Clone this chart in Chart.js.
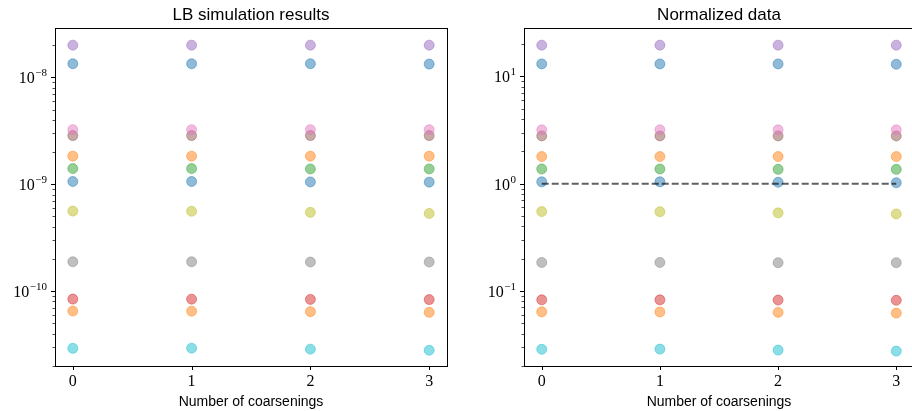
<!DOCTYPE html>
<html lang="en">
<head>
    <meta charset="UTF-8">
    <title>LB simulation results</title>
    <script src="https://cdn.jsdelivr.net/npm/chart.js@4.4.1/dist/chart.umd.min.js"></script>
    <style>
        html, body { margin: 0; padding: 0; background: #fff; overflow: hidden; }
        body { width: 912px; height: 411px; position: relative; }
        .panel { position: absolute; top: 0; height: 411px; width: 460px; }
        #leftPanel { left: 0; }
        #rightPanel { left: 460px; }
    </style>
</head>
<body>
<div class="panel" id="leftPanel"><canvas id="lbChart"></canvas></div>
<div class="panel" id="rightPanel"><canvas id="normChart"></canvas></div>

<script>
    const coarsenings = [0, 1, 2, 3];

    // raw LB results, one row per run (tab10 colour order)
    const lbRuns = [
        [1.06e-9, 1.06e-9, 1.05e-9, 1.045e-9],
        [1.83e-9, 1.83e-9, 1.83e-9, 1.83e-9],
        [1.40e-9, 1.40e-9, 1.39e-9, 1.39e-9],
        [8.41e-11, 8.40e-11, 8.36e-11, 8.32e-11],
        [2.00e-8, 2.00e-8, 2.00e-8, 2.00e-8],
        [2.85e-9, 2.85e-9, 2.85e-9, 2.85e-9],
        [3.24e-9, 3.24e-9, 3.24e-9, 3.24e-9],
        [1.88e-10, 1.88e-10, 1.87e-10, 1.87e-10],
        [5.60e-10, 5.58e-10, 5.45e-10, 5.32e-10],
        [2.91e-11, 2.92e-11, 2.86e-11, 2.79e-11],
        [1.34e-8, 1.34e-8, 1.34e-8, 1.33e-8],
        [6.50e-11, 6.48e-11, 6.42e-11, 6.32e-11]
    ];

    // same runs after normalization
    const normRuns = [
        [1.04, 1.04, 1.03, 1.02],
        [1.79, 1.79, 1.79, 1.79],
        [1.37, 1.37, 1.36, 1.36],
        [0.0825, 0.0824, 0.0820, 0.0816],
        [19.6, 19.6, 19.6, 19.6],
        [2.79, 2.79, 2.79, 2.79],
        [3.18, 3.18, 3.18, 3.18],
        [0.184, 0.184, 0.183, 0.183],
        [0.549, 0.547, 0.534, 0.522],
        [0.0285, 0.0286, 0.0280, 0.0274],
        [13.1, 13.1, 13.1, 13.0],
        [0.0637, 0.0635, 0.0629, 0.0620]
    ];

    const refLevel = [1, 1, 1, 1];

    const tab10 = ['31,119,180', '255,127,14', '44,160,44', '214,39,40', '148,103,189',
        '140,86,75', '227,119,194', '127,127,127', '188,189,34', '23,190,207'];

    const SERIF = '"Liberation Serif", "DejaVu Serif", serif';
    const SANS = '"Liberation Sans", Arial, sans-serif';

    // box, tick marks and 10^n labels the way matplotlib draws them
    const axesDecor = {
        id: 'axesDecor',
        afterDraw(chart) {
            const { ctx, chartArea: a, scales: { x, y } } = chart;
            ctx.save();
            ctx.strokeStyle = '#000';
            ctx.fillStyle = '#000';

            ctx.lineWidth = 1;
            ctx.strokeRect(Math.round(a.left) + 0.5, Math.round(a.top) + 0.5,
                Math.round(a.right - a.left), Math.round(a.bottom - a.top));

            const loDec = Math.floor(Math.log10(y.min));
            const hiDec = Math.ceil(Math.log10(y.max));
            for (let d = loDec; d <= hiDec; d++) {
                for (let k = 1; k <= 9; k++) {
                    const v = k * Math.pow(10, d);
                    if (v < y.min || v > y.max) continue;
                    const py = Math.round(y.getPixelForValue(v)) + 0.5;
                    const len = k === 1 ? 4 : 2.5;
                    ctx.lineWidth = k === 1 ? 1 : 0.7;
                    ctx.beginPath();
                    ctx.moveTo(a.left - len, py);
                    ctx.lineTo(a.left, py);
                    ctx.stroke();
                    if (k === 1) {
                        const expText = d < 0 ? '\u2212' + (-d) : String(d);
                        ctx.font = '11px ' + SERIF;
                        const ew = ctx.measureText(expText).width;
                        const right = a.left - 8;
                        ctx.textAlign = 'right';
                        ctx.textBaseline = 'alphabetic';
                        ctx.fillText(expText, right, py - 1.5);
                        ctx.font = '16px ' + SERIF;
                        ctx.fillText('10', right - ew - 0.5, py + 5.5);
                    }
                }
            }

            ctx.lineWidth = 1;
            coarsenings.forEach(c => {
                const px = Math.round(x.getPixelForValue(c)) + 0.5;
                ctx.beginPath();
                ctx.moveTo(px, a.bottom);
                ctx.lineTo(px, a.bottom + 4);
                ctx.stroke();
            });
            ctx.restore();
        }
    };

    function makeChart(canvasId, title, runs, yMin, yMax, yAxisWidth, padRight, withRef) {
        const datasets = runs.map((run, i) => {
            const rgb = tab10[i % 10];
            return {
                type: 'scatter',
                data: coarsenings.map((c, j) => ({ x: c, y: run[j] })),
                backgroundColor: 'rgba(' + rgb + ',0.5)',
                borderColor: 'rgba(' + rgb + ',0.45)',
                borderWidth: 1,
                pointRadius: 5,
                order: -i
            };
        });
        if (withRef) {
            datasets.push({
                type: 'line',
                data: coarsenings.map((c, j) => ({ x: c, y: refLevel[j] })),
                borderColor: 'rgba(0,0,0,0.62)',
                borderWidth: 2,
                borderDash: [7, 3],
                pointRadius: 0,
                fill: false,
                order: -100
            });
        }

        return new Chart(document.getElementById(canvasId), {
            type: 'scatter',
            data: { datasets },
            options: {
                responsive: true,
                maintainAspectRatio: false,
                animation: false,
                layout: { padding: { left: 0, right: padRight, top: 0, bottom: 0 } },
                plugins: {
                    legend: { display: false },
                    tooltip: { enabled: false },
                    title: {
                        display: true,
                        text: title,
                        fullSize: false,
                        color: '#000',
                        font: { family: SANS, size: 17, weight: 'normal' },
                        padding: { top: 5, bottom: 3 }
                    }
                },
                scales: {
                    x: {
                        type: 'linear',
                        min: -0.15,
                        max: 3.15,
                        grid: { display: false, drawTicks: false },
                        border: { display: false },
                        ticks: {
                            stepSize: 1,
                            includeBounds: false,
                            color: '#000',
                            padding: 6,
                            font: { family: SERIF, size: 16 },
                            callback: v => Number.isInteger(v) ? String(v) : ''
                        },
                        title: {
                            display: true,
                            text: 'Number of coarsenings',
                            color: '#000',
                            font: { family: SANS, size: 14 },
                            padding: { top: 0, bottom: 0 }
                        },
                        afterFit: s => { s.height = 45; }
                    },
                    y: {
                        type: 'logarithmic',
                        min: yMin,
                        max: yMax,
                        grid: { display: false, drawTicks: false },
                        border: { display: false },
                        ticks: { display: false },
                        afterFit: s => { s.width = yAxisWidth; }
                    }
                }
            },
            plugins: [axesDecor]
        });
    }

    makeChart('lbChart', 'LB simulation results', lbRuns, 1.99e-11, 2.87e-8, 55, 13, false);
    makeChart('normChart', 'Normalized data', normRuns, 0.0199, 28.1, 64, 5, true);
</script>
</body>
</html>
